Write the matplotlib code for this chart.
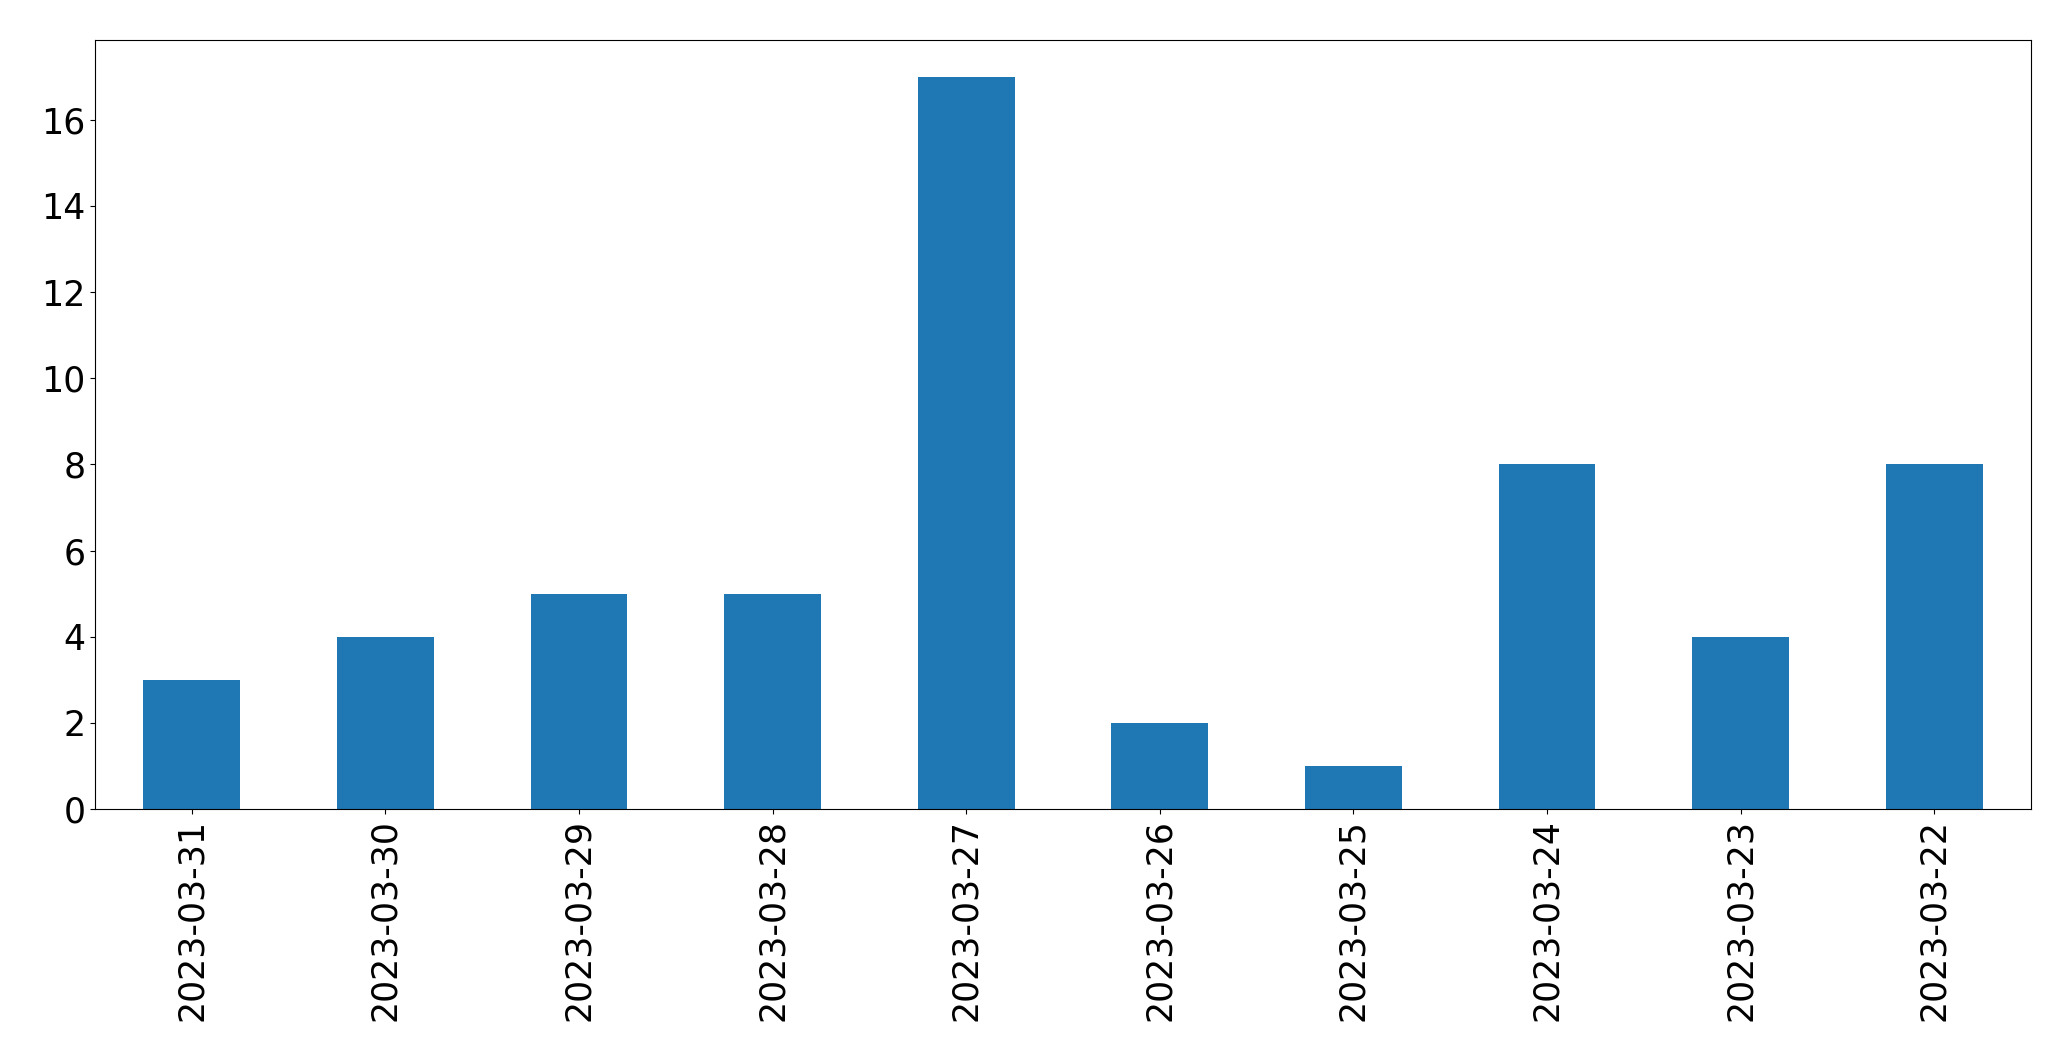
import matplotlib
matplotlib.use("Agg")
import matplotlib.pyplot as plt
import pandas as pd

dates = ["2023-03-31", "2023-03-30", "2023-03-29", "2023-03-28", "2023-03-27",
         "2023-03-26", "2023-03-25", "2023-03-24", "2023-03-23", "2023-03-22"]
counts = [3, 4, 5, 5, 17, 2, 1, 8, 4, 8]

s = pd.Series(counts, index=dates)

fig = plt.figure(figsize=(20.71, 10.61), dpi=100)
ax = fig.add_axes([95/2071, 1 - 809/1061, (2031-95)/2071, (809-40)/1061])
s.plot.bar(ax=ax, color="#1f77b4")
ax.tick_params(labelsize=25)
fig.savefig("out.png", dpi=100)
